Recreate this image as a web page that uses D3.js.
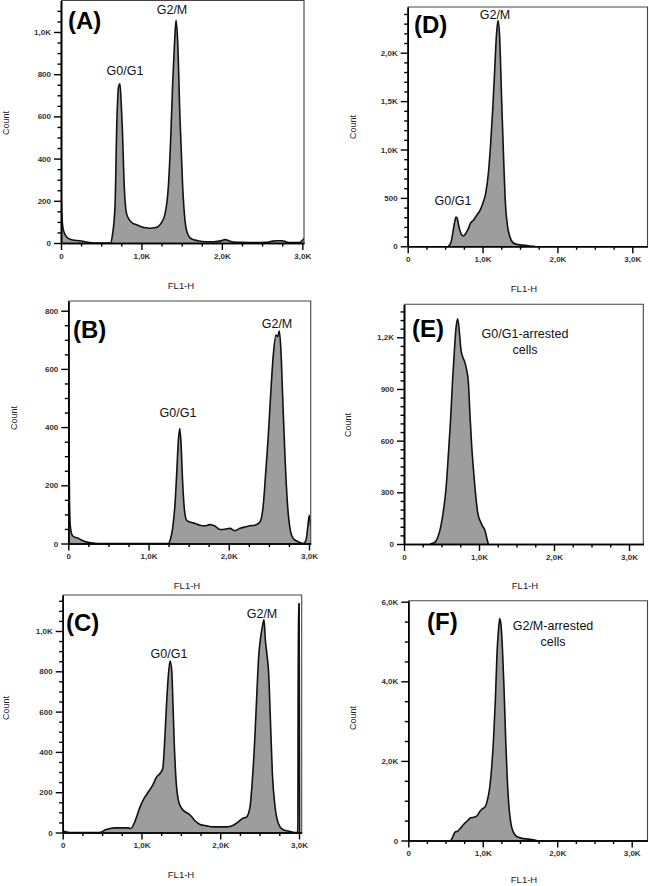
<!DOCTYPE html>
<html><head><meta charset="utf-8">
<script src="https://cdn.jsdelivr.net/npm/d3@7/dist/d3.min.js"></script>
<style>
html,body{margin:0;padding:0;background:#fff;}
svg{display:block;font-family:"Liberation Sans",Arial,sans-serif;}
</style></head>
<body>
<svg id="c" width="649" height="886"></svg>
<script>
// ---------------- DATA ----------------
const xTickValues = [0, 1000, 2000, 3000];
const xTickLabels = ["0", "1,0K", "2,0K", "3,0K"];

const yTicksA = [0, 200, 400, 600, 800, 1000];
const yLabelsA = ["0", "200", "400", "600", "800", "1,0K"];
const yTicksB = [0, 200, 400, 600, 800];
const yLabelsB = ["0", "200", "400", "600", "800"];
const yTicksC = [0, 200, 400, 600, 800, 1000];
const yLabelsC = ["0", "200", "400", "600", "800", "1,0K"];
const yTicksD = [0, 500, 1000, 1500, 2000];
const yLabelsD = ["0", "500", "1,0K", "1,5K", "2,0K"];
const yTicksE = [0, 300, 600, 900, 1200];
const yLabelsE = ["0", "300", "600", "900", "1,2K"];
const yTicksF = [0, 2000, 4000, 6000];
const yLabelsF = ["0", "2,0K", "4,0K", "6,0K"];

// [FL1-H, Count]
const histA = [[0,260],[8,150],[25,70],[50,40],[90,22],[150,14],[230,11],[300,6],[350,2],[400,0],[615,0],[640,40],[671,170],[696,596],[715,740],[733,755],[750,650],[762,549],[787,264],[816,138],[858,106],[900,92],[940,87],[980,80],[1023,74],[1065,72],[1106,70],[1150,72],[1189,74],[1225,84],[1251,98],[1293,138],[1334,264],[1363,486],[1388,755],[1413,960],[1430,1055],[1450,960],[1479,596],[1513,264],[1542,106],[1575,43],[1625,19],[1700,11],[1800,6],[1900,6],[1990,10],[2040,16],[2090,10],[2150,5],[2250,3],[2400,2],[2550,3],[2620,8],[2680,11],[2750,11],[2800,5],[2870,2],[2960,2],[3000,12],[3022,22]];

const histB = [[0,650],[8,350],[15,150],[25,60],[50,28],[80,22],[110,20],[150,14],[200,8],[260,3],[330,1],[400,0],[1246,0],[1275,17],[1300,52],[1329,132],[1350,235],[1371,350],[1388,395],[1404,350],[1425,212],[1446,120],[1475,80],[1516,74],[1579,69],[1641,63],[1703,61],[1766,65],[1828,60],[1890,48],[1953,49],[2015,52],[2077,44],[2140,52],[2202,57],[2264,61],[2326,63],[2389,74],[2430,132],[2464,258],[2493,372],[2522,510],[2555,648],[2588,716],[2609,711],[2630,730],[2651,659],[2671,510],[2700,304],[2730,143],[2763,52],[2804,17],[2866,6],[2929,0],[2962,11],[2983,52],[3004,97],[3020,60]];

const histC = [[0,8],[40,4],[80,0],[470,0],[495,3],[537,12],[601,20],[664,23],[749,23],[834,23],[868,20],[897,36],[939,78],[982,127],[1033,169],[1088,202],[1143,235],[1193,276],[1236,293],[1270,318],[1291,425],[1312,591],[1337,757],[1363,851],[1384,806],[1401,624],[1418,425],[1439,260],[1468,161],[1511,119],[1553,103],[1595,94],[1638,78],[1680,58],[1744,40],[1828,33],[1913,28],[1997,28],[2082,28],[2167,36],[2230,53],[2285,70],[2336,78],[2378,127],[2408,260],[2438,459],[2463,674],[2488,873],[2514,972],[2535,1022],[2556,1055],[2573,955],[2594,881],[2615,790],[2637,558],[2662,293],[2696,127],[2738,45],[2793,15],[2865,7],[2950,0],[2985,3],[2992,1135],[3002,1135],[3008,0]];

const histD = [[543,0],[579,45],[601,131],[623,234],[645,303],[663,286],[685,200],[712,131],[743,107],[774,131],[810,183],[841,241],[877,269],[921,320],[966,372],[1010,459],[1041,545],[1077,752],[1108,1062],[1135,1407],[1162,1821],[1184,2166],[1206,2331],[1228,2166],[1255,1510],[1282,890],[1308,407],[1335,200],[1366,97],[1411,34],[1478,17],[1567,10],[1633,3],[1700,0]];

const histE = [[347,0],[413,10],[458,49],[493,107],[529,204],[560,320],[591,515],[622,728],[649,961],[671,1117],[693,1252],[716,1307],[738,1233],[760,1126],[782,1087],[809,1058],[836,1010],[858,942],[880,748],[902,573],[929,417],[956,282],[982,184],[1013,136],[1044,107],[1080,78],[1107,29],[1124,0]];

const histF = [[573,0],[596,84],[627,210],[663,235],[694,294],[730,378],[761,436],[797,503],[837,570],[882,587],[927,629],[963,738],[994,797],[1030,839],[1061,1007],[1088,1258],[1120,1846],[1146,2601],[1169,3523],[1191,4698],[1209,5243],[1227,5579],[1245,5411],[1263,4866],[1285,3859],[1308,2517],[1330,1510],[1352,839],[1379,419],[1411,210],[1455,101],[1523,59],[1612,34],[1679,17],[1724,0]];

const panelLetters = ["(A)", "(B)", "(C)", "(D)", "(E)", "(F)"];

// ---------------- LAYOUT ----------------
const panels = [
  {id:"A", hist:histA, yt:yTicksA, yl:yLabelsA, yMinor:50,
   x0:61, x3:302.3, right:304, y0:243, yRefV:1000, yRefP:32, top:0.5,
   letter:[68,28.5], countPos:[6,123], xlabPos:[181,289],
   notes:[{t:"G0/G1",x:125,y:75},{t:"G2/M",x:172,y:14}]},
  {id:"B", hist:histB, yt:yTicksB, yl:yLabelsB, yMinor:50,
   x0:68.3, x3:309, right:310.7, y0:543.5, yRefV:800, yRefP:310.7, top:301,
   letter:[73,337.5], countPos:[14,418], xlabPos:[187,589],
   notes:[{t:"G0/G1",x:178,y:417},{t:"G2/M",x:277,y:328}]},
  {id:"C", hist:histC, yt:yTicksC, yl:yLabelsC, yMinor:50,
   x0:62.7, x3:299, right:301.7, y0:832.5, yRefV:1000, yRefP:631, top:595,
   letter:[66,630.5], countPos:[6,708], xlabPos:[181,878],
   notes:[{t:"G0/G1",x:169,y:658},{t:"G2/M",x:262,y:618}]},
  {id:"D", hist:histD, yt:yTicksD, yl:yLabelsD, yMinor:100,
   x0:407.7, x3:632.3, right:647.5, y0:246.3, yRefV:2000, yRefP:52.7, top:7,
   letter:[414,33], countPos:[353,127], xlabPos:[524,292],
   notes:[{t:"G2/M",x:495,y:19},{t:"G0/G1",x:453,y:205}]},
  {id:"E", hist:histE, yt:yTicksE, yl:yLabelsE, yMinor:50,
   x0:404, x3:629, right:643.3, y0:544, yRefV:1200, yRefP:337.3, top:304.3,
   letter:[412,336.5], countPos:[348,425], xlabPos:[525,589],
   notes:[{t:"G0/G1-arrested",x:525,y:338},{t:"cells",x:525,y:354}]},
  {id:"F", hist:histF, yt:yTicksF, yl:yLabelsF, yMinor:500,
   x0:408.3, x3:631.7, right:647.5, y0:840.5, yRefV:6000, yRefP:601.7, top:600.7,
   letter:[427,630], countPos:[353,718], xlabPos:[524,883],
   notes:[{t:"G2/M-arrested",x:553,y:630},{t:"cells",x:553,y:646}]}
];

const svg = d3.select("#c");

panels.forEach((p, i) => {
  const g = svg.append("g");
  const xb = d3.scaleLinear().domain([0, 3000]).range([p.x0, p.x3]);
  const xMax = xb.invert(p.right);
  const x = d3.scaleLinear().domain([0, xMax]).range([p.x0, p.right]);
  const yb = d3.scaleLinear().domain([0, p.yRefV]).range([p.y0, p.yRefP]);
  const yMax = yb.invert(p.top);
  const y = d3.scaleLinear().domain([0, yMax]).range([p.y0, p.top]);

  const clipId = "clip" + p.id;
  g.append("clipPath").attr("id", clipId).append("rect")
    .attr("x", p.x0).attr("y", p.top).attr("width", p.right - p.x0).attr("height", p.y0 - p.top);

  const area = d3.area().x(d => x(d[0])).y0(y(0)).y1(d => y(d[1])).curve(d3.curveMonotoneX);
  const line = d3.line().x(d => x(d[0])).y(d => y(d[1])).curve(d3.curveMonotoneX);
  const dg = g.append("g").attr("clip-path", `url(#${clipId})`);
  dg.append("path").datum(p.hist).attr("d", area).attr("fill", "#9d9d9d");
  dg.append("path").datum(p.hist).attr("d", line).attr("fill", "none")
    .attr("stroke", "#111").attr("stroke-width", 1.6).attr("stroke-linejoin", "round");

  // frame top & right
  g.append("path").attr("d", `M${p.x0},${p.top}H${p.right}V${p.y0}`)
    .attr("fill", "none").attr("stroke", "#444").attr("stroke-width", 1.1);

  // minor ticks
  const xMinorVals = d3.range(0, xMax, 250).filter(v => !xTickValues.includes(v));
  const yMinorVals = d3.range(0, yMax - 1e-6, p.yMinor).filter(v => !p.yt.includes(v) && y(v) > p.top + 3);

  const xAxisMinor = d3.axisBottom(x).tickValues(xMinorVals).tickSize(3.5).tickSizeOuter(0).tickFormat("");
  const yAxisMinor = d3.axisLeft(y).tickValues(yMinorVals).tickSize(3.5).tickSizeOuter(0).tickFormat("");
  const xAxis = d3.axisBottom(x).tickValues(xTickValues).tickSize(7).tickSizeOuter(0).tickPadding(3)
    .tickFormat((d, k) => xTickLabels[k]);
  const yAxis = d3.axisLeft(y).tickValues(p.yt).tickSize(7).tickSizeOuter(0).tickPadding(3)
    .tickFormat((d, k) => p.yl[k]);

  [ [xAxisMinor, "b"], [yAxisMinor, "l"], [xAxis, "b"], [yAxis, "l"] ].forEach(([ax, side]) => {
    const a = g.append("g").attr("transform", side === "b" ? `translate(0,${p.y0})` : `translate(${p.x0},0)`).call(ax);
    a.select(".domain").attr("stroke", "#000").attr("stroke-width", 1.6);
    a.selectAll(".tick line").attr("stroke", "#000").attr("stroke-width", 1.4);
    a.selectAll(".tick text").attr("fill", "#333").style("font-size", "8px").style("font-weight", "bold");
  });

  // axis titles
  g.append("text").attr("x", p.xlabPos[0]).attr("y", p.xlabPos[1]).attr("text-anchor", "middle")
    .style("font-size", "9.5px").attr("fill", "#222").text("FL1-H");
  g.append("text").attr("transform", `translate(${p.countPos[0] + 3},${p.countPos[1]}) rotate(-90)`)
    .attr("text-anchor", "middle").style("font-size", "9px").attr("fill", "#222").text("Count");

  // panel letter
  g.append("text").attr("x", p.letter[0]).attr("y", p.letter[1])
    .style("font-size", "24px").style("font-weight", "bold").attr("fill", "#000").text(panelLetters[i]);

  // phase notes
  p.notes.forEach(n => {
    g.append("text").attr("x", n.x).attr("y", n.y).attr("text-anchor", "middle")
      .style("font-size", "12.5px").attr("fill", "#111").text(n.t);
  });
});
</script>
</body></html>
